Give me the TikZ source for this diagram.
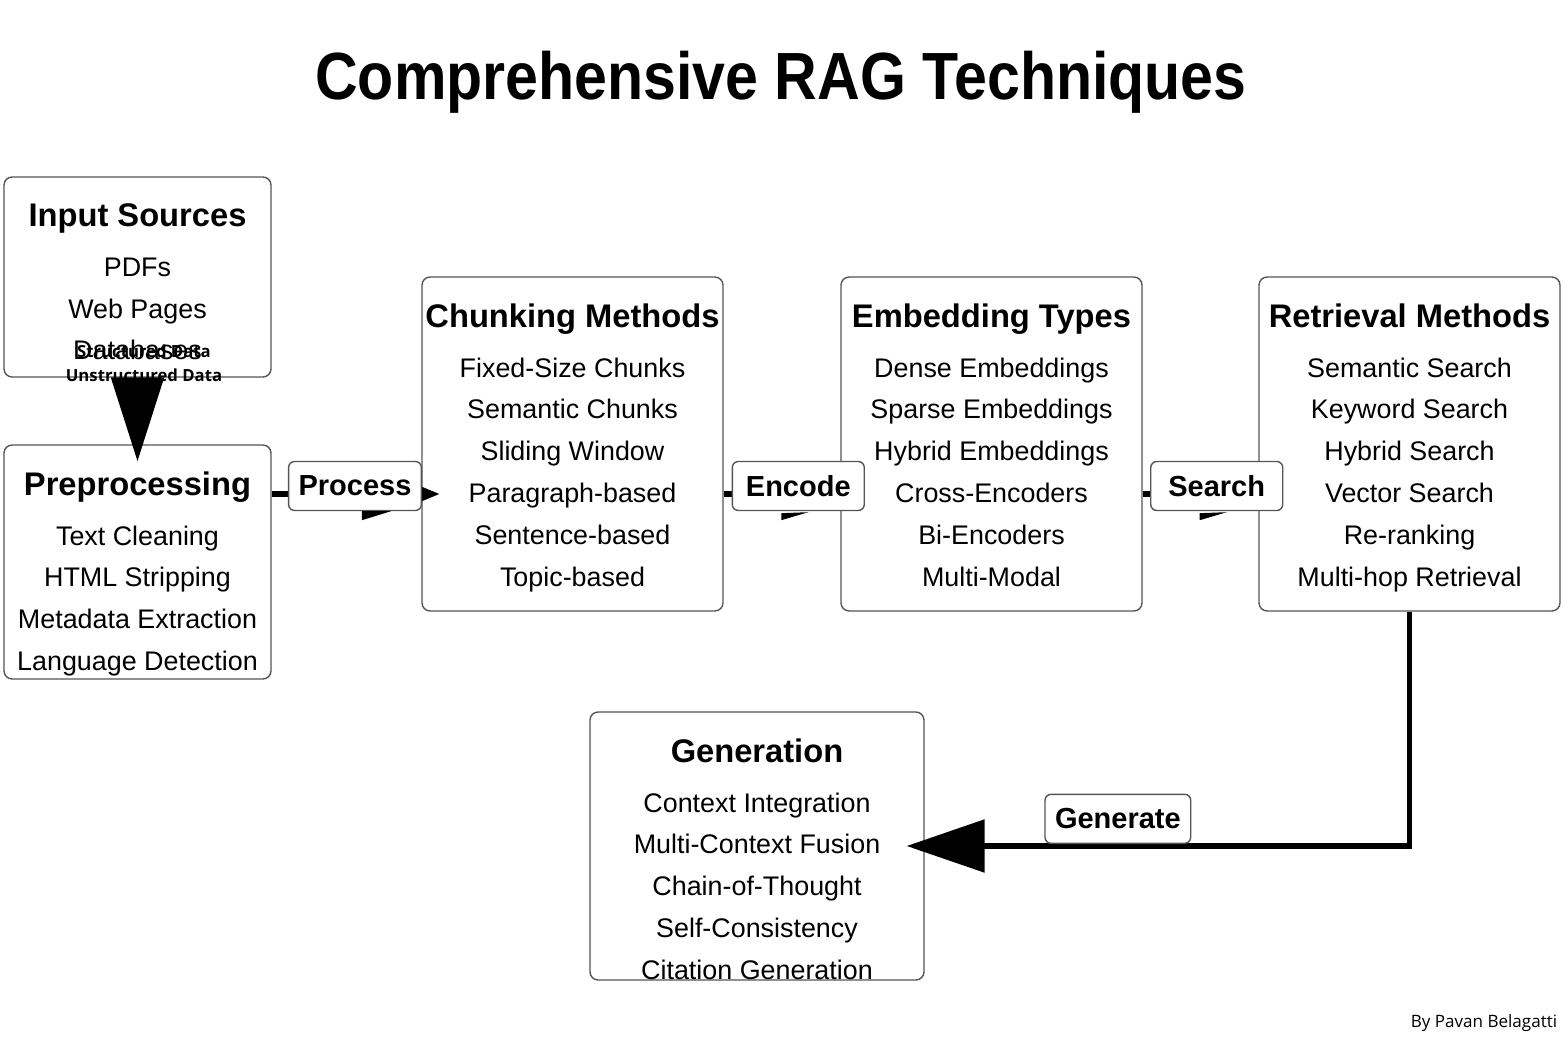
\documentclass[tikz,border=0pt]{standalone}
\usepackage{fontspec}
\setmainfont{Liberation Sans}
\newfontfamily\headfont[FakeStretch=0.885]{Liberation Sans}
\newfontfamily\canvafont{Open Sans}
\usetikzlibrary{arrows.meta, positioning}
\definecolor{ragedge}{RGB}{85,85,85}

\newcommand{\itemfont}{\fontsize{15.3}{23.8}\selectfont}
\newcommand{\headingfont}{\bfseries\fontsize{18.6}{23.8}\selectfont}

\begin{document}
\begin{tikzpicture}[x=0.02cm, y=-0.02cm,
        stage/.style={rectangle, draw=ragedge, line width=0.8pt, rounded corners=0.16cm, fill=white},
        stagetext/.style={inner sep=0pt, align=center, font=\itemfont},
        lbl/.style={rectangle, draw=ragedge, line width=0.8pt, rounded corners=0.12cm, fill=white, font=\bfseries\fontsize{16.5}{20}\selectfont, minimum width=2.64cm, minimum height=0.98cm, inner xsep=0.2cm, inner ysep=0pt},
        srclbl/.style={inner sep=0pt, align=center, font=\canvafont\bfseries\fontsize{9.5}{13.6}\selectfont},
        flow/.style={line width=0.11cm, -{Triangle[length=0.4cm, width=0.28cm]}},
        bigflow/.style={line width=0.11cm, -{Triangle[length=#1, width=1.04cm]}},
        bigflow/.default=1.56cm
    ]
    \useasboundingbox (0,0) rectangle (1566,1060);

    % Title
    \node[font=\headfont\bfseries\fontsize{38}{44}\selectfont, anchor=base] (title) at (781,100) {Comprehensive RAG Techniques};

    % Stage boxes
    \node[stage, minimum width=5.34cm, minimum height=4cm] (input) at (137.5,277) {};
    \node[stage, minimum width=5.34cm, minimum height=4.68cm] (prep) at (137.5,562) {};
    \node[stage, minimum width=6.02cm, minimum height=6.68cm] (chunk) at (572.5,444) {};
    \node[stage, minimum width=6.02cm, minimum height=6.68cm] (embed) at (991.5,444) {};
    \node[stage, minimum width=6.02cm, minimum height=6.68cm] (retr) at (1409.5,444) {};
    \node[stage, minimum width=6.68cm, minimum height=5.36cm] (gen) at (757,846) {};

    % Box contents
    \node[stagetext, below=0.54cm of input.north] (inputtxt) {{\headingfont Input Sources}\\[4.5pt] PDFs\\ Web Pages\\ Databases};
    \node[stagetext, below=0.54cm of prep.north] (preptxt) {{\headingfont Preprocessing}\\[4.5pt] Text Cleaning\\ HTML Stripping\\ Metadata Extraction\\ Language Detection};
    \node[stagetext, below=0.54cm of chunk.north] (chunktxt) {{\headingfont Chunking Methods}\\[4.5pt] Fixed-Size Chunks\\ Semantic Chunks\\ Sliding Window\\ Paragraph-based\\ Sentence-based\\ Topic-based};
    \node[stagetext, below=0.54cm of embed.north] (embedtxt) {{\headingfont Embedding Types}\\[4.5pt] Dense Embeddings\\ Sparse Embeddings\\ Hybrid Embeddings\\ Cross-Encoders\\ Bi-Encoders\\ Multi-Modal};
    \node[stagetext, below=0.54cm of retr.north] (retrtxt) {{\headingfont Retrieval Methods}\\[4.5pt] Semantic Search\\ Keyword Search\\ Hybrid Search\\ Vector Search\\ Re-ranking\\ Multi-hop Retrieval};
    \node[stagetext, below=0.54cm of gen.north] (gentxt) {{\headingfont Generation}\\[4.5pt] Context Integration\\ Multi-Context Fusion\\ Chain-of-Thought\\ Self-Consistency\\ Citation Generation};

    % Connectors
    \coordinate (row) at (0,494);
    \draw[bigflow=1.68cm] (input.south) -- ([yshift=-0.34cm]prep.north)
        node[srclbl, pos=0, yshift=0.28cm, xshift=0.13cm] (datalbl) {Structured Data\\Unstructured Data};
    \draw[flow] (prep.east |- row) -- ([xshift=0.38cm]chunk.west |- row)
        node[lbl, pos=0.494, yshift=0.16cm] (process) {Process};
    \draw[flow] (chunk.east |- row) -- ([xshift=0.38cm]embed.west |- row)
        node[lbl, pos=0.55, yshift=0.16cm] (encode) {Encode};
    \draw[flow] (embed.east |- row) -- ([xshift=0.38cm]retr.west |- row)
        node[lbl, pos=0.55, yshift=0.16cm] (search) {Search};
    \draw[bigflow] (retr.south) |- ([xshift=-0.36cm]gen.east)
        node[lbl, pos=0.79, anchor=south, yshift=0.04cm] (generate) {Generate};

    % small wedges under the labels
    \fill ([shift={(7,0)}]process.south) -- ([shift={(36,0)}]process.south) -- ([shift={(7,9)}]process.south) -- cycle;
    \fill ([shift={(-17,2)}]encode.south) -- ([shift={(10,1)}]encode.south) -- ([shift={(-17,9)}]encode.south) -- cycle;
    \fill ([shift={(-17,2)}]search.south) -- ([shift={(10,1)}]search.south) -- ([shift={(-17,9)}]search.south) -- cycle;

    % Credit
    \node[font=\canvafont\fontsize{9.7}{12}\selectfont] (credit) at (1484,1023) {By Pavan Belagatti};
\end{tikzpicture}
\end{document}
